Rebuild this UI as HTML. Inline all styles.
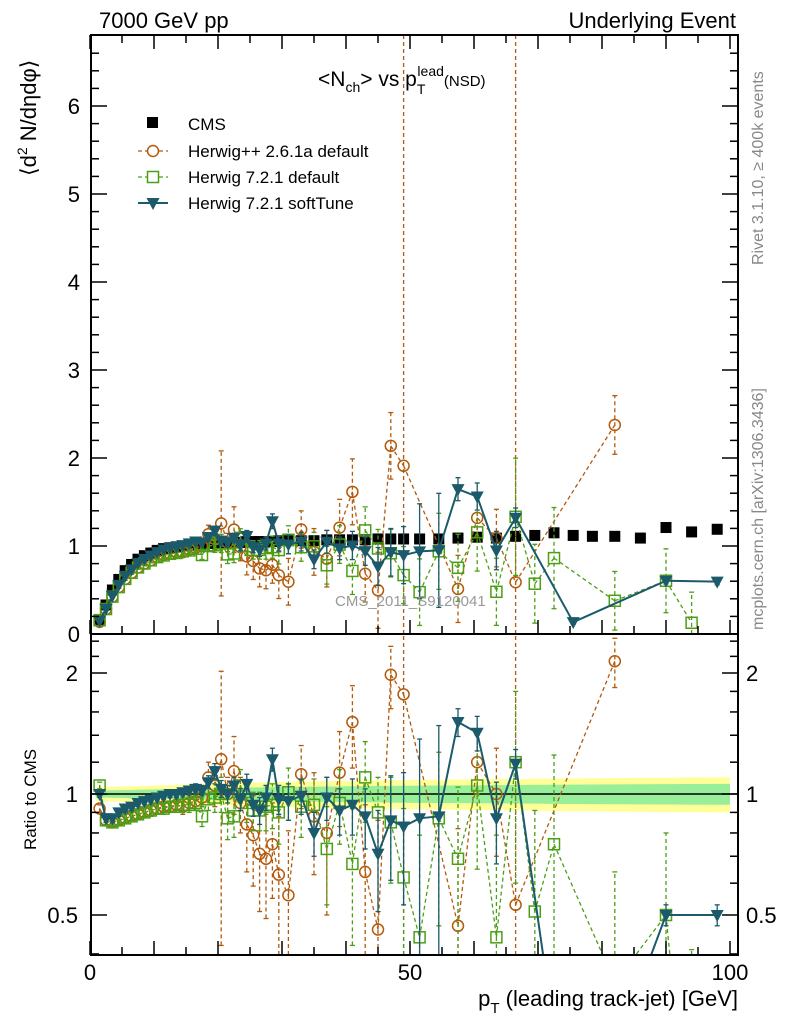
<!DOCTYPE html>
<html><head><meta charset="utf-8"><style>
html,body{margin:0;padding:0;background:#fff;width:786px;height:1024px;overflow:hidden;position:relative}
svg{display:block;font-family:"Liberation Sans",sans-serif}
</style></head><body>
<svg id="c" width="786" height="1024" viewBox="0 0 786 1024" style="position:absolute;left:0;top:0"></svg>
<script>
const xs=[1.5,2.5,3.5,4.5,5.5,6.5,7.5,8.5,9.5,10.5,11.5,12.5,13.5,14.5,15.5,16.5,17.5,18.5,19.5,20.5,21.5,22.5,23.5,24.5,25.5,26.5,27.5,28.5,29.5,
31,33,35,37,39,41,43,45,47,49,51.5,54.5,57.5,60.5,63.5,66.5,69.5,72.5,75.5,78.5,82,86,90,94,98];
const cms=[0.15,0.33,0.5,0.62,0.72,0.79,0.85,0.89,0.92,0.95,0.97,0.98,0.99,1.0,1.01,1.02,1.02,1.03,1.03,1.03,1.04,1.04,1.04,1.05,1.05,1.05,1.05,1.05,1.06,
1.06,1.06,1.06,1.07,1.07,1.07,1.07,1.08,1.08,1.08,1.08,1.08,1.09,1.1,1.09,1.11,1.12,1.15,1.12,1.11,1.11,1.09,1.21,1.16,1.19];
const hppRatio=[0.92,0.86,0.85,0.86,0.87,0.88,0.89,0.9,0.91,0.92,0.93,0.93,0.94,0.93,0.95,0.96,0.98,1.10,1.05,1.22,1.0,1.14,0.95,0.84,0.79,0.71,0.69,0.75,0.63,
0.56,1.12,0.88,0.80,1.13,1.51,0.64,0.46,1.98,1.77,null,null,0.47,1.20,1.0,0.53,null,null,null,null,2.14,null,null,null,null];
const hppErr=[0.02,0.02,0.02,0.02,0.02,0.02,0.02,0.02,0.03,0.03,0.03,0.03,0.04,0.04,0.04,0.05,0.05,0.1,0.12,0.8,0.1,0.25,0.15,0.2,0.2,0.2,0.2,0.2,0.25,
0.25,0.2,0.25,0.3,0.3,0.35,0.3,0.4,0.35,10,0,0,0.35,0.2,0.3,10,0,0,0,0,0.3,0,0,0,0];
const h7Ratio=[1.05,0.86,0.85,0.86,0.87,0.88,0.89,0.9,0.91,0.92,0.92,0.93,0.93,0.94,0.94,0.95,0.88,0.97,0.98,1.0,0.87,0.88,1.05,0.95,0.91,0.91,0.93,0.94,0.9,
1.01,0.93,0.94,0.73,0.95,0.67,1.10,0.90,0.85,0.62,0.44,0.87,0.69,1.05,0.44,1.20,0.51,0.75,null,null,0.34,null,0.5,0.11,null];
const h7Err=[0.02,0.02,0.02,0.02,0.02,0.02,0.02,0.02,0.03,0.03,0.03,0.03,0.03,0.04,0.04,0.04,0.05,0.06,0.08,0.1,0.1,0.1,0.1,0.1,0.1,0.1,0.12,0.12,0.15,
0.15,0.15,0.15,0.2,0.2,0.25,0.25,0.2,0.25,0.3,0.35,0.4,0.35,0.4,0.35,0.6,0.4,0.5,0,0,0.3,0,0.3,0.3,0];
const softRatio=[1.0,0.87,0.87,0.9,0.92,0.93,0.95,0.96,0.97,0.98,0.99,1.0,1.0,1.01,1.02,1.03,1.02,1.07,1.14,1.03,1.0,1.05,0.97,1.06,0.94,0.91,0.98,1.22,0.97,
0.96,0.99,0.8,0.98,0.91,0.94,0.88,0.71,0.86,0.83,0.87,0.88,1.51,1.42,0.87,1.19,null,null,0.12,null,null,null,0.5,null,0.5];
const softErr=[0.02,0.02,0.02,0.02,0.02,0.02,0.02,0.02,0.02,0.02,0.02,0.02,0.02,0.02,0.02,0.03,0.03,0.04,0.05,0.05,0.05,0.05,0.06,0.06,0.06,0.07,0.07,0.08,0.08,
0.1,0.1,0.1,0.12,0.12,0.15,0.15,0.2,0.25,0.3,0.5,0.6,0.12,0.14,0.2,0.1,0,0,0.02,0,0,0,0.03,0,0.03];
const yTicksMain=[0,1,2,3,4,5,6];
const xTicks=[0,50,100];
const rTicks=[0.5,1,2];

const NS='http://www.w3.org/2000/svg';
const svg=document.getElementById('c');
const L=91,R=738,T=35,MB=634,RB=955;
const X=v=>90+v*6.4;
const Y=v=>MB-v*88;
const RY=v=>794-Math.log2(Math.max(v,1e-4))*121;
function el(tag,attrs,parent){const e=document.createElementNS(NS,tag);for(const k in attrs)e.setAttribute(k,attrs[k]);(parent||svg).appendChild(e);return e;}
function clipSeg(x1,y1,x2,y2,a,b){
  if((y1<a&&y2<a)||(y1>b&&y2>b))return null;
  const at=y=>x1+(x2-x1)*(y-y1)/(y2-y1);
  if(y1<a){x1=at(a);y1=a;} else if(y1>b){x1=at(b);y1=b;}
  if(y2<a){x2=x1+(x2-x1)*0; }
  return [x1,y1,x2,y2];
}
function clipLine(x1,y1,x2,y2,a,b){
  let s=clipSeg(x1,y1,x2,y2,a,b); if(!s)return null;
  let r=clipSeg(x2,y2,s[0],s[1],a,b); if(!r)return null;
  return [r[2],r[3],r[0],r[1]];
}
const defs=el('defs',{});
const c1=el('clipPath',{id:'cm'},defs);el('rect',{x:L,y:T,width:R-L,height:MB-T},c1);
const c2=el('clipPath',{id:'cr'},defs);el('rect',{x:L,y:MB,width:R-L,height:RB-MB},c2);
const gM=el('g',{'clip-path':'url(#cm)'});


const gR=el('g',{'clip-path':'url(#cr)'});



let up1='',dn1='',up2='',dn2='';
xs.forEach((x,i)=>{const f=i/(xs.length-1);const g=0.02+0.04*f,yy=0.04+0.06*f;
const x0=X(x)-4,x1=(i==xs.length-1)?X(100):X(x)+4;
up1+=`${x0},${RY(1+yy)} ${x1},${RY(1+yy)} `;dn1=`${x1},${RY(1-yy)} ${x0},${RY(1-yy)} `+dn1;
up2+=`${x0},${RY(1+g)} ${x1},${RY(1+g)} `;dn2=`${x1},${RY(1-g)} ${x0},${RY(1-g)} `+dn2;});
const by=el('polygon',{points:up1+dn1,fill:'#ffff99'},gR);


const bg=el('polygon',{points:up2+dn2,fill:'#99ee99'},gR);


const one=el('line',{x1:L,x2:R,y1:RY(1),y2:RY(1),stroke:'#000','stroke-width':1.5},gR);



function series(name,ratio,err,color,dash,marker){
  [[gM,true],[gR,false]].forEach(([g,main])=>{
    const gg=el('g',{},g);
    
    
    const top=main?T:MB, bot=main?MB:RB;
    const val=i=>main?ratio[i]*cms[i]:ratio[i];
    const YY=v=>main?Y(v):RY(v);
    const cl=y=>Math.min(Math.max(y,top),bot);
    let pts=[];
    xs.forEach((x,i)=>{if(ratio[i]==null)return;pts.push([X(x),YY(val(i))]);
      const e=main?err[i]*cms[i]:err[i];
      if(e>0){const loRaw=YY(Math.max(val(i)-e,0.0001)),hiRaw=YY(val(i)+e);
        const lo=cl(loRaw),hi=cl(hiRaw);
        if(lo!==hi){
        const eb=el('line',{x1:X(x),x2:X(x),y1:lo,y2:hi,stroke:color,'stroke-width':1.3,'stroke-dasharray':dash||'none'},gg);
        
        
        [loRaw,hiRaw].forEach(yv=>{if(yv>=top&&yv<=bot)el('line',{x1:X(x)-2.5,x2:X(x)+2.5,y1:yv,y2:yv,stroke:color,'stroke-width':1.3},gg);});}}
    });
    for(let k=0;k<pts.length-1;k++){
      const s=clipLine(pts[k][0],pts[k][1],pts[k+1][0],pts[k+1][1],top-10,bot+10);
      if(!s)continue;
      const ln=el('line',{x1:s[0],y1:s[1],x2:s[2],y2:s[3],stroke:color,'stroke-width':dash?1.3:2,'stroke-dasharray':dash||'none'},gg);
      
      
    }
    xs.forEach((x,i)=>{if(ratio[i]==null)return;const y=YY(val(i));if(y<top-10||y>bot+10)return;
      const m=marker(gg,X(x),y);
      
      });
  });
}
const circ=(g,x,y)=>el('circle',{cx:x,cy:y,r:5.5,fill:'none',stroke:'#b35a0c','stroke-width':1.5},g);
const sq=(g,x,y)=>el('rect',{x:x-5.5,y:y-5.5,width:11,height:11,fill:'none',stroke:'#4c9f15','stroke-width':1.5},g);
const tri=(g,x,y)=>el('polygon',{points:`${x-6.5},${y-5} ${x+6.5},${y-5} ${x},${y+7}`,fill:'#1b5a6a'},g);

const gc=el('g',{},gM);


xs.forEach((x,i)=>{const r=el('rect',{x:X(x)-5.5,y:Y(cms[i])-5.5,width:11,height:11,fill:'#000'},gc);
  
  });
series('herwigpp-2-6-1a',hppRatio,hppErr,'#b35a0c','4,3',circ);
series('herwig-7-2-1-default',h7Ratio,h7Err,'#4c9f15','4,3',sq);
series('herwig-7-2-1-softtune',softRatio,softErr,'#1b5a6a',null,tri);

[[T,MB],[MB,RB]].forEach(([a,b],k)=>{const f=el('rect',{x:L,y:a,width:R-L,height:b-a,fill:'none',stroke:'#000','stroke-width':2});
  
  });
for(let v=0;v<=100;v+=5){const big=v%10==0,len=big?14:8;
  [MB,RB].forEach(b=>el('line',{x1:X(v),x2:X(v),y1:b,y2:b-len,stroke:'#000','stroke-width':1.5}));
  el('line',{x1:X(v),x2:X(v),y1:T,y2:T+len,stroke:'#000','stroke-width':1.5});}
xTicks.forEach(v=>{const t=el('text',{x:X(v),y:980,'font-size':22,'text-anchor':'middle'});t.textContent=v;
  
  });
for(let v=0;v<=6.8;v+=0.2){const big=Math.abs(v-Math.round(v))<1e-6,len=big?16:8;
  el('line',{x1:L,x2:L+len,y1:Y(v),y2:Y(v),stroke:'#000','stroke-width':1.5});
  el('line',{x1:R,x2:R-len,y1:Y(v),y2:Y(v),stroke:'#000','stroke-width':1.5});}
yTicksMain.forEach(v=>{const t=el('text',{x:80,y:Y(v)+8,'font-size':22,'text-anchor':'end'});t.textContent=v;
  
  });
[0.4,0.5,0.6,0.7,0.8,0.9,1,1.2,1.4,1.6,1.8,2,2.2,2.4].forEach(v=>{const big=rTicks.includes(v),len=big?16:8;
  el('line',{x1:L,x2:L+len,y1:RY(v),y2:RY(v),stroke:'#000','stroke-width':1.5});
  el('line',{x1:R,x2:R-len,y1:RY(v),y2:RY(v),stroke:'#000','stroke-width':1.5});});
rTicks.forEach(v=>{[[78,'end'],[746,'start']].forEach(([x,a])=>{const t=el('text',{x:x,y:RY(v)+8,'font-size':22,'text-anchor':a});t.textContent=v;
  
  });});
</script>
<svg width="786" height="1024" style="position:absolute;left:0;top:0" font-family="Liberation Sans, sans-serif">
<text x="99" y="28" font-size="22">7000 GeV pp</text>
<text x="736" y="28" font-size="22" text-anchor="end">Underlying Event</text>
<text transform="translate(36,176) rotate(-90)" font-size="22">⟨d<tspan font-size="14" dy="-9">2</tspan><tspan dy="9"> N/dηdφ⟩</tspan></text>
<text x="318" y="86" font-size="21">&lt;N<tspan font-size="14" dy="6">ch</tspan><tspan dy="-6">&gt; vs p</tspan><tspan font-size="14" dy="8">T</tspan><tspan font-size="14" dy="-18" dx="-8">lead</tspan><tspan font-size="15" dy="10">(NSD)</tspan></text>
<g font-size="17">
<rect x="147" y="117" width="11" height="11" fill="#000"/><text x="188" y="130">CMS</text>
<line x1="138" x2="168" y1="151" y2="151" stroke="#b35a0c" stroke-width="1.3" stroke-dasharray="4,3"/><circle cx="153" cy="151" r="5.5" fill="#fff" stroke="#b35a0c" stroke-width="1.5"/><text x="188" y="157">Herwig++ 2.6.1a default</text>
<line x1="138" x2="168" y1="177" y2="177" stroke="#4c9f15" stroke-width="1.3" stroke-dasharray="4,3"/><rect x="147.5" y="171.5" width="11" height="11" fill="#fff" stroke="#4c9f15" stroke-width="1.5"/><text x="188" y="183">Herwig 7.2.1 default</text>
<line x1="138" x2="168" y1="203" y2="203" stroke="#1b5a6a" stroke-width="2"/><polygon points="146.5,198 159.5,198 153,210" fill="#1b5a6a"/><text x="188" y="209">Herwig 7.2.1 softTune</text>
</g>
<text x="335" y="606" font-size="15" fill="#999">CMS_2011_S9120041</text>
<text transform="translate(763,265) rotate(-90)" font-size="16" fill="#888">Rivet 3.1.10, ≥ 400k events</text>
<text transform="translate(763,630) rotate(-90)" font-size="16" fill="#888">mcplots.cern.ch [arXiv:1306.3436]</text>
<text transform="translate(36,850) rotate(-90)" font-size="17">Ratio to CMS</text>
<text x="738" y="1006" font-size="22" text-anchor="end">p<tspan font-size="15" dy="7">T</tspan><tspan dy="-7"> (leading track-jet) [GeV]</tspan></text>
</svg>
</body></html>
